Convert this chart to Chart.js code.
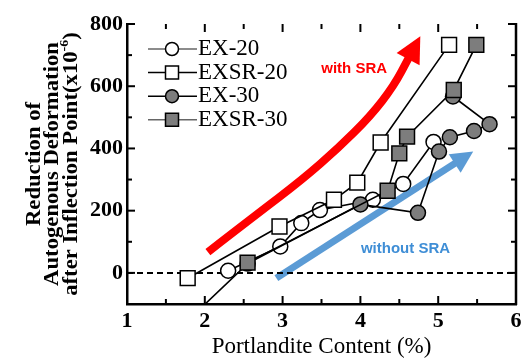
<!DOCTYPE html>
<html>
<head>
<meta charset="utf-8">
<script src="https://cdn.jsdelivr.net/npm/chart.js@4.4.1/dist/chart.umd.min.js"></script>
<style>
  html, body { margin: 0; padding: 0; background: #fff; }
  #wrap { width: 528px; height: 358px; }
</style>
</head>
<body>
<div id="wrap"><canvas id="chart" width="528" height="358"></canvas></div>
<script>
// tick labels
const xTicks = [1, 2, 3, 4, 5, 6];
const yTicks = [0, 200, 400, 600, 800];

// series, points in the order they are joined
const ex20X = [2.3, 2.97, 3.24, 3.48, 4.16, 4.55, 4.94];
const ex20Y = [7, 85, 160, 202, 235, 286, 421];
const exsr20X = [1.78, 2.96, 3.66, 3.96, 4.26, 5.14];
const exsr20Y = [-17, 149, 235, 290, 419, 733];
const ex30X = [1.9, 2.55, 4.0, 4.74, 5.01, 5.15, 5.46, 5.66, 5.19];
const ex30Y = [-125, 30, 220, 193, 390, 436, 456, 478, 567];
const exsr30X = [2.55, 4.35, 4.5, 4.6, 5.2, 5.49];
const exsr30Y = [33, 264, 384, 438, 588, 733];

// trend arrows (data coordinates)
const withSraX = [2.04, 2.64, 3.25, 3.72, 4.13, 4.43, 4.77];
const withSraY = [67, 183, 299, 402, 504, 601, 761];
const withoutSraX = [2.92, 5.45];
const withoutSraY = [-17, 390];

const pts = (xs, ys) => xs.map((x, i) => ({ x: x, y: ys[i] }));
const GREY = '#7d7d7d';

const notes = [
  { text: 'with SRA', x: 3.92, y: 655, color: '#ff0000' },
  { text: 'without SRA', x: 4.58, y: 77, color: '#3f8ed6' }
];

function drawArrow(ctx, p, color, width, headLen, headHalf) {
  const n = p.length;
  const tip = p[n - 1], prev = p[n - 2];
  const dx = tip[0] - prev[0], dy = tip[1] - prev[1];
  const len = Math.hypot(dx, dy);
  const ux = dx / len, uy = dy / len;
  const base = [tip[0] - ux * headLen, tip[1] - uy * headLen];
  const shaft = p.slice(0, n - 1).concat([[base[0] + ux * 3, base[1] + uy * 3]]);
  ctx.save();
  ctx.strokeStyle = color;
  ctx.fillStyle = color;
  ctx.lineWidth = width;
  ctx.lineJoin = 'round';
  ctx.beginPath();
  ctx.moveTo(shaft[0][0], shaft[0][1]);
  for (let i = 1; i < shaft.length - 1; i++) {
    const mx = (shaft[i][0] + shaft[i + 1][0]) / 2;
    const my = (shaft[i][1] + shaft[i + 1][1]) / 2;
    ctx.quadraticCurveTo(shaft[i][0], shaft[i][1], mx, my);
  }
  ctx.lineTo(shaft[shaft.length - 1][0], shaft[shaft.length - 1][1]);
  ctx.stroke();
  ctx.beginPath();
  ctx.moveTo(tip[0], tip[1]);
  ctx.lineTo(base[0] - uy * headHalf, base[1] + ux * headHalf);
  ctx.lineTo(base[0] + uy * headHalf, base[1] - ux * headHalf);
  ctx.closePath();
  ctx.fill();
  ctx.restore();
}

const decor = {
  id: 'decor',
  beforeDatasetsDraw(chart) {
    const { ctx, scales: { x, y } } = chart;
    const toPx = (xs, ys) => xs.map((v, i) => [x.getPixelForValue(v), y.getPixelForValue(ys[i])]);
    drawArrow(ctx, toPx(withSraX, withSraY), '#ff0000', 8, 26, 13);
    drawArrow(ctx, toPx(withoutSraX, withoutSraY), '#5b9bd5', 7, 22, 11);
    ctx.save();
    ctx.font = 'bold 15px "Liberation Sans", Arial, sans-serif';
    ctx.textAlign = 'center';
    ctx.textBaseline = 'middle';
    notes.forEach(n => {
      ctx.fillStyle = n.color;
      ctx.fillText(n.text, x.getPixelForValue(n.x), y.getPixelForValue(n.y));
    });
    ctx.restore();
  },
  afterDraw(chart) {
    const { ctx, chartArea: a, scales: { x, y } } = chart;
    const seg = (x1, y1, x2, y2) => { ctx.beginPath(); ctx.moveTo(x1, y1); ctx.lineTo(x2, y2); ctx.stroke(); };
    ctx.save();
    ctx.strokeStyle = '#000';
    ctx.lineWidth = 2.5;
    seg(a.right, a.top - 1, a.right, a.bottom + 1);
    // inward ticks on all four sides
    ctx.lineWidth = 2;
    for (let v = x.min + 0.5; v < x.max; v += 0.5) {
      const p = x.getPixelForValue(v);
      const L = Number.isInteger(v) ? 8 : 5;
      seg(p, a.bottom, p, a.bottom - L);
      seg(p, a.top, p, a.top + L);
    }
    for (let v = y.min; v <= y.max; v += 100) {
      const p = y.getPixelForValue(v);
      const L = v % 200 === 0 ? 8 : 5;
      seg(a.left, p, a.left + L, p);
      seg(a.right, p, a.right - L, p);
    }

    // legend, line with marker in the middle
    const entries = chart.data.datasets.filter(d => d.legendColor);
    entries.sort((d1, d2) => d1.legendRow - d2.legendRow);
    entries.forEach((d, i) => {
      const ry = a.top + 25 + i * 23.6;
      const lx0 = a.left + 21, lx1 = a.left + 70, mx = a.left + 45;
      ctx.strokeStyle = d.legendColor;
      ctx.lineWidth = 1.5;
      seg(lx0, ry, lx1, ry);
      ctx.fillStyle = d.pointBackgroundColor;
      ctx.strokeStyle = '#000';
      ctx.lineWidth = 1.5;
      ctx.beginPath();
      if (d.pointStyle === 'circle') ctx.arc(mx, ry, 6.5, 0, Math.PI * 2);
      else ctx.rect(mx - 6.5, ry - 6.5, 13, 13);
      ctx.fill();
      ctx.stroke();
      ctx.fillStyle = '#000';
      ctx.font = '23px "Liberation Serif", "Times New Roman", serif';
      ctx.textAlign = 'left';
      ctx.textBaseline = 'middle';
      ctx.fillText(d.label, lx1 + 1, ry);
    });

    // y axis title, three rotated lines
    const cy = (a.top + a.bottom) / 2;
    const big = 'bold 21px "Liberation Serif", "Times New Roman", serif';
    const small = 'bold 13px "Liberation Serif", "Times New Roman", serif';
    const line = (bx, parts) => {
      ctx.save();
      ctx.translate(bx, cy);
      ctx.rotate(-Math.PI / 2);
      ctx.scale(1.08, 1);
      ctx.fillStyle = '#000';
      ctx.textAlign = 'left';
      ctx.textBaseline = 'alphabetic';
      let total = 0;
      parts.forEach(pt => { ctx.font = pt.sup ? small : big; pt.w = ctx.measureText(pt.t).width; total += pt.w; });
      let cx = -total / 2;
      parts.forEach(pt => {
        ctx.font = pt.sup ? small : big;
        ctx.fillText(pt.t, cx, pt.sup ? -9 : 0);
        cx += pt.w;
      });
      ctx.restore();
    };
    line(40, [{ t: 'Reduction of' }]);
    line(58, [{ t: 'Autogenous Deformation' }]);
    line(77, [{ t: 'after Inflection Point(x10' }, { t: '-6', sup: true }, { t: ')' }]);
    ctx.restore();
  }
};

const tickFont = { family: '"Liberation Serif", "Times New Roman", serif', size: 22, weight: 'bold' };

new Chart(document.getElementById('chart'), {
  type: 'scatter',
  data: {
    datasets: [
      {
        label: 'EXSR-30', data: pts(exsr30X, exsr30Y), showLine: true, order: 1, legendRow: 4, legendColor: '#666',
        borderColor: '#000', borderWidth: 1.6, pointStyle: 'rect', pointRadius: 10.5,
        pointBackgroundColor: GREY, pointBorderColor: '#000', pointBorderWidth: 1.5
      },
      {
        label: 'EX-30', data: pts(ex30X, ex30Y), showLine: true, order: 2, legendRow: 3, legendColor: '#000',
        borderColor: '#000', borderWidth: 1.6, pointStyle: 'circle', pointRadius: 7.5,
        pointBackgroundColor: GREY, pointBorderColor: '#000', pointBorderWidth: 1.5
      },
      {
        label: 'EXSR-20', data: pts(exsr20X, exsr20Y), showLine: true, order: 3, legendRow: 2, legendColor: '#000',
        borderColor: '#000', borderWidth: 1.6, pointStyle: 'rect', pointRadius: 10.5,
        pointBackgroundColor: '#fff', pointBorderColor: '#000', pointBorderWidth: 1.5
      },
      {
        label: 'EX-20', data: pts(ex20X, ex20Y), showLine: true, order: 4, legendRow: 1, legendColor: '#666',
        borderColor: '#000', borderWidth: 1.6, pointStyle: 'circle', pointRadius: 7.5,
        pointBackgroundColor: '#fff', pointBorderColor: '#000', pointBorderWidth: 1.5
      },
      {
        label: 'zero', data: pts([1, 6], [0, 0]), showLine: true, order: 5,
        borderColor: '#000', borderWidth: 2, borderDash: [6, 4], pointRadius: 0
      }
    ]
  },
  options: {
    responsive: false,
    animation: false,
    layout: { padding: { left: 0, top: 24, right: 10, bottom: 0 } },
    plugins: { legend: { display: false }, tooltip: { enabled: false } },
    scales: {
      x: {
        type: 'linear', min: 1, max: 6,
        afterBuildTicks: s => { s.ticks = xTicks.map(v => ({ value: v })); },
        afterFit: s => { s.height = 54; },
        grid: { display: false, drawTicks: false },
        border: { display: true, color: '#000', width: 2.5 },
        ticks: { font: tickFont, color: '#000', padding: 4, maxRotation: 0, autoSkip: false },
        title: {
          display: true, text: 'Portlandite Content (%)', color: '#000',
          font: { family: '"Liberation Serif", "Times New Roman", serif', size: 23, lineHeight: 1 },
          padding: { top: 0, bottom: 0 }
        }
      },
      y: {
        type: 'linear', min: -100, max: 800,
        afterBuildTicks: s => { s.ticks = yTicks.map(v => ({ value: v })); },
        afterFit: s => { s.width = 127; },
        grid: { display: false, drawTicks: false },
        border: { display: true, color: '#000', width: 2.5 },
        ticks: { font: tickFont, color: '#000', padding: 4 }
      }
    }
  },
  plugins: [decor]
});
</script>
</body>
</html>
